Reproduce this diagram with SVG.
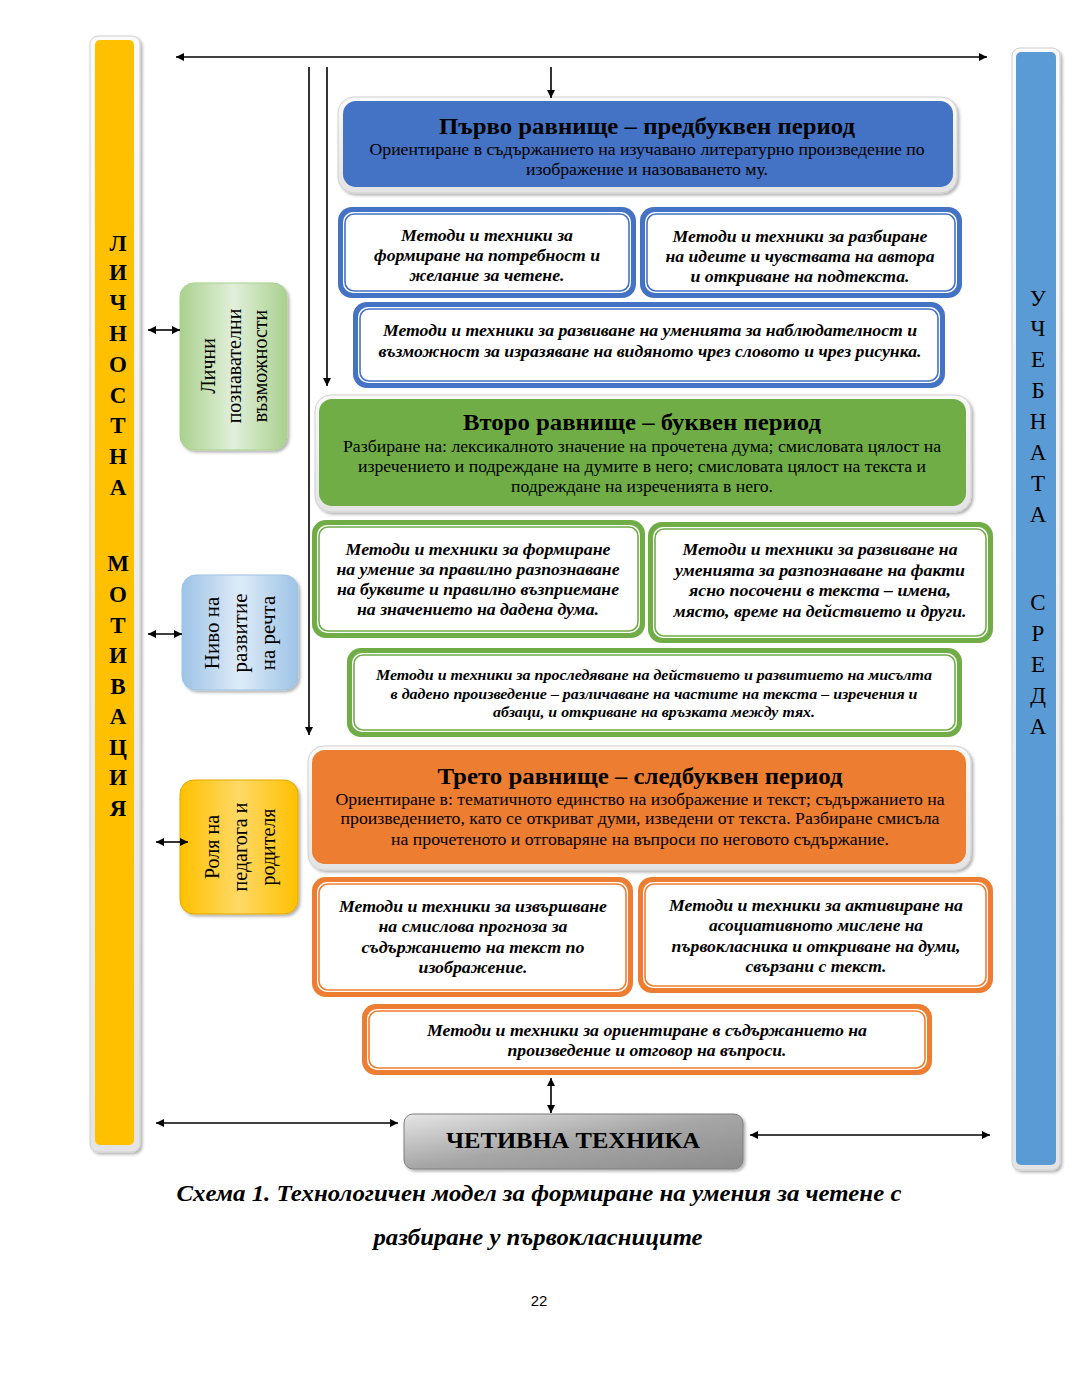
<svg xmlns="http://www.w3.org/2000/svg" width="1080" height="1397" viewBox="0 0 1080 1397">
<defs>
<marker id="ah" viewBox="0 0 10 10" refX="10" refY="5" markerUnits="userSpaceOnUse" markerWidth="10" markerHeight="8" orient="auto-start-reverse">
<path d="M0,0 L10,5 L0,10 z" fill="#000"/>
</marker>
<filter id="sh" x="-10%" y="-10%" width="120%" height="120%">
<feDropShadow dx="2" dy="2" stdDeviation="1.5" flood-color="#000" flood-opacity="0.3"/>
</filter>
<linearGradient id="gGreen" x1="0" y1="0" x2="1" y2="0">
<stop offset="0" stop-color="#a9d18e"/><stop offset="0.5" stop-color="#e2efda"/><stop offset="1" stop-color="#a9d18e"/>
</linearGradient>
<linearGradient id="gBlue" x1="0" y1="0" x2="1" y2="0">
<stop offset="0" stop-color="#9dc3e6"/><stop offset="0.5" stop-color="#deebf7"/><stop offset="1" stop-color="#9dc3e6"/>
</linearGradient>
<linearGradient id="gYel" x1="0" y1="0" x2="1" y2="0">
<stop offset="0" stop-color="#ffc000"/><stop offset="0.5" stop-color="#ffd966"/><stop offset="1" stop-color="#ffc000"/>
</linearGradient>
<linearGradient id="gGrey" x1="0" y1="0" x2="1" y2="1">
<stop offset="0" stop-color="#e6e6e6"/><stop offset="0.5" stop-color="#a6a6a6"/><stop offset="1" stop-color="#8c8c8c"/>
</linearGradient>
<linearGradient id="gFrame" x1="0" y1="0" x2="0" y2="1">
<stop offset="0" stop-color="#fafafa"/><stop offset="1" stop-color="#e4e4e4"/>
</linearGradient>
</defs>
<style>
text{font-family:"Liberation Serif","Times New Roman",serif;fill:#000}
.m{font-size:17px;font-weight:bold;font-style:italic;text-anchor:middle}
.ms{font-size:15px;font-weight:bold;font-style:italic;text-anchor:middle}
.ht{font-size:23px;font-weight:bold;text-anchor:middle}
.hb{font-size:16px;text-anchor:middle}
.side{font-size:20px;text-anchor:middle;dominant-baseline:central}
.lb{font-size:23px;font-weight:bold;text-anchor:middle}
.rb{font-size:23px;text-anchor:middle}
.i{fill:#fff}
.l{fill:none;stroke-width:1.6}
.blue .o{fill:#4472c4}.blue .l{stroke:#4472c4}
.green .o{fill:#70ad47}.green .l{stroke:#70ad47}
.orange .o{fill:#ed7d31}.orange .l{stroke:#ed7d31}
.frame{fill:url(#gFrame);stroke:#d0d0d0;stroke-width:1}
.ln{stroke:#000;stroke-width:1.6;fill:none}
</style>

<g id="bar-left">
<rect x="90" y="36" width="50" height="1116" rx="8" class="frame" filter="url(#sh)"/>
<rect x="95" y="40" width="39" height="1105" rx="5" fill="#ffc000"/>
<text class="lb" x="118" y="251">Л</text>
<text class="lb" x="118" y="280">И</text>
<text class="lb" x="118" y="310">Ч</text>
<text class="lb" x="118" y="341">Н</text>
<text class="lb" x="118" y="372">О</text>
<text class="lb" x="118" y="403">С</text>
<text class="lb" x="118" y="433">Т</text>
<text class="lb" x="118" y="464">Н</text>
<text class="lb" x="118" y="495">А</text>
<text class="lb" x="118" y="571">М</text>
<text class="lb" x="118" y="602">О</text>
<text class="lb" x="118" y="633">Т</text>
<text class="lb" x="118" y="663">И</text>
<text class="lb" x="118" y="694">В</text>
<text class="lb" x="118" y="724">А</text>
<text class="lb" x="118" y="755">Ц</text>
<text class="lb" x="118" y="785">И</text>
<text class="lb" x="118" y="816">Я</text>
</g>

<g id="bar-right">
<rect x="1012" y="48" width="48" height="1122" rx="8" class="frame" filter="url(#sh)"/>
<rect x="1016" y="52" width="40" height="1113" rx="5" fill="#5b9bd5"/>
<text class="rb" x="1038" y="306">У</text>
<text class="rb" x="1038" y="336">Ч</text>
<text class="rb" x="1038" y="367">Е</text>
<text class="rb" x="1038" y="398">Б</text>
<text class="rb" x="1038" y="429">Н</text>
<text class="rb" x="1038" y="460">А</text>
<text class="rb" x="1038" y="491">Т</text>
<text class="rb" x="1038" y="522">А</text>
<text class="rb" x="1038" y="610">С</text>
<text class="rb" x="1038" y="641">Р</text>
<text class="rb" x="1038" y="672">Е</text>
<text class="rb" x="1038" y="703">Д</text>
<text class="rb" x="1038" y="734">А</text>
</g>

<g id="side-green">
<rect x="180" y="283" width="107" height="167" rx="14" fill="url(#gGreen)" stroke="#a9d18e" filter="url(#sh)"/>
<g transform="translate(234,366) rotate(-90)">
<text class="side" x="0" y="-26">Лични</text>
<text class="side" x="0" y="0">познавателни</text>
<text class="side" x="0" y="26">възможности</text>
</g>
</g>

<g id="side-blue">
<rect x="182" y="575" width="116" height="115" rx="14" fill="url(#gBlue)" stroke="#9dc3e6" filter="url(#sh)"/>
<g transform="translate(240,633) rotate(-90)">
<text class="side" x="0" y="-28" style="font-size:21px">Ниво на</text>
<text class="side" x="0" y="0" style="font-size:21px">развитие</text>
<text class="side" x="0" y="28" style="font-size:21px">на речта</text>
</g>
</g>

<g id="side-yellow">
<rect x="180" y="780" width="118" height="134" rx="14" fill="url(#gYel)" stroke="#e0a800" filter="url(#sh)"/>
<g transform="translate(240,847) rotate(-90)">
<text class="side" x="0" y="-28">Роля на</text>
<text class="side" x="0" y="0">педагога и</text>
<text class="side" x="0" y="28">родителя</text>
</g>
</g>

<g id="level1">
<rect x="338" y="97" width="619" height="96" rx="16" class="frame" filter="url(#sh)"/>
<rect x="343" y="101" width="610" height="86" rx="13" fill="#4472c4"/>
<text class="ht" x="647" y="134" textLength="416" lengthAdjust="spacingAndGlyphs">Първо равнище – предбуквен период</text>
<text class="hb" x="647" y="155" textLength="555" lengthAdjust="spacingAndGlyphs">Ориентиране в съдържанието на изучавано литературно произведение по</text>
<text class="hb" x="647" y="175" textLength="242" lengthAdjust="spacingAndGlyphs">изображение и назоваването му.</text>
</g>

<g id="m1a" class="blue">
<rect class="o" x="338" y="207" width="298" height="91" rx="14"/>
<rect class="i" x="343" y="212" width="288" height="81" rx="10"/>
<rect class="l" x="345" y="214" width="284" height="77" rx="9"/>
<text class="m" x="487" y="241" textLength="172" lengthAdjust="spacingAndGlyphs">Методи и техники за</text>
<text class="m" x="487" y="261" textLength="226" lengthAdjust="spacingAndGlyphs">формиране на потребност и</text>
<text class="m" x="487" y="281" textLength="155" lengthAdjust="spacingAndGlyphs">желание за четене.</text>
</g>

<g id="m1b" class="blue">
<rect class="o" x="640" y="207" width="322" height="91" rx="14"/>
<rect class="i" x="645" y="212" width="312" height="81" rx="10"/>
<rect class="l" x="647" y="214" width="308" height="77" rx="9"/>
<text class="m" x="800" y="242" textLength="255" lengthAdjust="spacingAndGlyphs">Методи и техники за разбиране</text>
<text class="m" x="800" y="262" textLength="269" lengthAdjust="spacingAndGlyphs">на идеите и чувствата на автора</text>
<text class="m" x="800" y="282" textLength="219" lengthAdjust="spacingAndGlyphs">и откриване на подтекста.</text>
</g>

<g id="m1c" class="blue">
<rect class="o" x="353" y="302" width="592" height="86" rx="14"/>
<rect class="i" x="358" y="307" width="582" height="76" rx="10"/>
<rect class="l" x="360" y="309" width="578" height="72" rx="9"/>
<text class="m" x="650" y="336" textLength="534" lengthAdjust="spacingAndGlyphs">Методи и техники за развиване на уменията за наблюдателност и</text>
<text class="m" x="650" y="357" textLength="543" lengthAdjust="spacingAndGlyphs">възможност за изразяване на видяното чрез словото и чрез рисунка.</text>
</g>

<g id="level2">
<rect x="315" y="395" width="656" height="117" rx="16" class="frame" filter="url(#sh)"/>
<rect x="319" y="399" width="647" height="107" rx="13" fill="#70ad47"/>
<text class="ht" x="642" y="430" textLength="358" lengthAdjust="spacingAndGlyphs">Второ равнище – буквен период</text>
<text class="hb" x="642" y="452" textLength="598" lengthAdjust="spacingAndGlyphs">Разбиране на: лексикалното значение на прочетена дума; смисловата цялост на</text>
<text class="hb" x="642" y="472" textLength="568" lengthAdjust="spacingAndGlyphs">изречението и подреждане на думите в него; смисловата цялост на текста и</text>
<text class="hb" x="642" y="492" textLength="262" lengthAdjust="spacingAndGlyphs">подреждане на изреченията в него.</text>
</g>

<g id="m2a" class="green">
<rect class="o" x="312" y="520" width="333" height="118" rx="14"/>
<rect class="i" x="317" y="525" width="323" height="108" rx="10"/>
<rect class="l" x="319" y="527" width="319" height="104" rx="9"/>
<text class="m" x="478" y="555" textLength="265" lengthAdjust="spacingAndGlyphs">Методи и техники за формиране</text>
<text class="m" x="478" y="575" textLength="283" lengthAdjust="spacingAndGlyphs">на умение за правилно разпознаване</text>
<text class="m" x="478" y="595" textLength="282" lengthAdjust="spacingAndGlyphs">на буквите и правилно възприемане</text>
<text class="m" x="478" y="615" textLength="242" lengthAdjust="spacingAndGlyphs">на значението на дадена дума.</text>
</g>

<g id="m2b" class="green">
<rect class="o" x="648" y="522" width="345" height="121" rx="14"/>
<rect class="i" x="653" y="527" width="335" height="111" rx="10"/>
<rect class="l" x="655" y="529" width="331" height="107" rx="9"/>
<text class="m" x="820" y="555" textLength="275" lengthAdjust="spacingAndGlyphs">Методи и техники за развиване на</text>
<text class="m" x="820" y="576" textLength="290" lengthAdjust="spacingAndGlyphs">уменията за разпознаване на факти</text>
<text class="m" x="820" y="596" textLength="262" lengthAdjust="spacingAndGlyphs">ясно посочени в текста – имена,</text>
<text class="m" x="820" y="617" textLength="293" lengthAdjust="spacingAndGlyphs">място, време на действието и други.</text>
</g>

<g id="m2c" class="green">
<rect class="o" x="347" y="648" width="615" height="89" rx="14"/>
<rect class="i" x="352" y="653" width="605" height="79" rx="10"/>
<rect class="l" x="354" y="655" width="601" height="75" rx="9"/>
<text class="ms" x="654" y="680" textLength="556" lengthAdjust="spacingAndGlyphs">Методи и техники за проследяване на действието и развитието на мисълта</text>
<text class="ms" x="654" y="699" textLength="527" lengthAdjust="spacingAndGlyphs">в дадено произведение – различаване на частите на текста – изречения и</text>
<text class="ms" x="654" y="717" textLength="322" lengthAdjust="spacingAndGlyphs">абзаци, и откриване на връзката между тях.</text>
</g>

<g id="level3">
<rect x="308" y="746" width="663" height="124" rx="16" class="frame" filter="url(#sh)"/>
<rect x="312" y="750" width="654" height="114" rx="13" fill="#ed7d31"/>
<text class="ht" x="640" y="784" textLength="405" lengthAdjust="spacingAndGlyphs">Трето равнище – следбуквен период</text>
<text class="hb" x="640" y="805" textLength="609" lengthAdjust="spacingAndGlyphs">Ориентиране в: тематичното единство на изображение и текст; съдържанието на</text>
<text class="hb" x="640" y="824" textLength="599" lengthAdjust="spacingAndGlyphs">произведението, като се откриват думи, изведени от текста. Разбиране смисъла</text>
<text class="hb" x="640" y="845" textLength="498" lengthAdjust="spacingAndGlyphs">на прочетеното и отговаряне на въпроси по неговото съдържание.</text>
</g>

<g id="m3a" class="orange">
<rect class="o" x="312" y="877" width="321" height="120" rx="14"/>
<rect class="i" x="317" y="882" width="311" height="110" rx="10"/>
<rect class="l" x="319" y="884" width="307" height="106" rx="9"/>
<text class="m" x="473" y="912" textLength="268" lengthAdjust="spacingAndGlyphs">Методи и техники за извършване</text>
<text class="m" x="473" y="932" textLength="189" lengthAdjust="spacingAndGlyphs">на смислова прогноза за</text>
<text class="m" x="473" y="953" textLength="223" lengthAdjust="spacingAndGlyphs">съдържанието на текст по</text>
<text class="m" x="473" y="973" textLength="109" lengthAdjust="spacingAndGlyphs">изображение.</text>
</g>

<g id="m3b" class="orange">
<rect class="o" x="638" y="877" width="355" height="116" rx="14"/>
<rect class="i" x="643" y="882" width="345" height="106" rx="10"/>
<rect class="l" x="645" y="884" width="341" height="102" rx="9"/>
<text class="m" x="816" y="911" textLength="294" lengthAdjust="spacingAndGlyphs">Методи и техники за активиране на</text>
<text class="m" x="816" y="931" textLength="214" lengthAdjust="spacingAndGlyphs">асоциативното мислене на</text>
<text class="m" x="816" y="952" textLength="289" lengthAdjust="spacingAndGlyphs">първокласника и откриване на думи,</text>
<text class="m" x="816" y="972" textLength="141" lengthAdjust="spacingAndGlyphs">свързани с текст.</text>
</g>

<g id="m3c" class="orange">
<rect class="o" x="362" y="1004" width="570" height="71" rx="14"/>
<rect class="i" x="367" y="1009" width="560" height="61" rx="10"/>
<rect class="l" x="369" y="1011" width="556" height="57" rx="9"/>
<text class="m" x="647" y="1036" textLength="440" lengthAdjust="spacingAndGlyphs">Методи и техники за ориентиране в съдържанието на</text>
<text class="m" x="647" y="1056" textLength="279" lengthAdjust="spacingAndGlyphs">произведение и отговор на въпроси.</text>
</g>

<g id="reading-technique">
<rect x="404" y="1114" width="339" height="55" rx="9" fill="url(#gGrey)" stroke="#7f7f7f" stroke-width="1" filter="url(#sh)"/>
<text x="573" y="1148" style="font-size:23px;font-weight:bold;text-anchor:middle" textLength="254" lengthAdjust="spacingAndGlyphs">ЧЕТИВНА ТЕХНИКА</text>
</g>

<g id="caption">
<text x="539" y="1201" style="font-size:23px;font-weight:bold;font-style:italic;text-anchor:middle" textLength="725" lengthAdjust="spacingAndGlyphs">Схема 1. Технологичен модел за формиране на умения за четене с</text>
<text x="538" y="1245" style="font-size:23px;font-weight:bold;font-style:italic;text-anchor:middle" textLength="329" lengthAdjust="spacingAndGlyphs">разбиране у първокласниците</text>
<text x="539" y="1306" style="font-family:'Liberation Sans',Arial,sans-serif;font-size:15px;text-anchor:middle">22</text>
</g>

<g id="connectors">
<line class="ln" x1="176" y1="57" x2="987" y2="57" marker-start="url(#ah)" marker-end="url(#ah)"/>
<line class="ln" x1="309" y1="67" x2="309" y2="735" marker-end="url(#ah)"/>
<line class="ln" x1="327" y1="67" x2="327" y2="386" marker-end="url(#ah)"/>
<line class="ln" x1="551" y1="67" x2="551" y2="98" marker-end="url(#ah)"/>
<line class="ln" x1="148" y1="330" x2="180" y2="330" marker-start="url(#ah)" marker-end="url(#ah)"/>
<line class="ln" x1="148" y1="634" x2="182" y2="634" marker-start="url(#ah)" marker-end="url(#ah)"/>
<line class="ln" x1="156" y1="842" x2="188" y2="842" stroke-width="2" marker-start="url(#ah)" marker-end="url(#ah)"/>
<line class="ln" x1="551" y1="1078" x2="551" y2="1113" marker-start="url(#ah)" marker-end="url(#ah)"/>
<line class="ln" x1="156" y1="1123" x2="398" y2="1123" marker-start="url(#ah)" marker-end="url(#ah)"/>
<line class="ln" x1="750" y1="1135" x2="990" y2="1135" marker-start="url(#ah)" marker-end="url(#ah)"/>
</g>
</svg>
